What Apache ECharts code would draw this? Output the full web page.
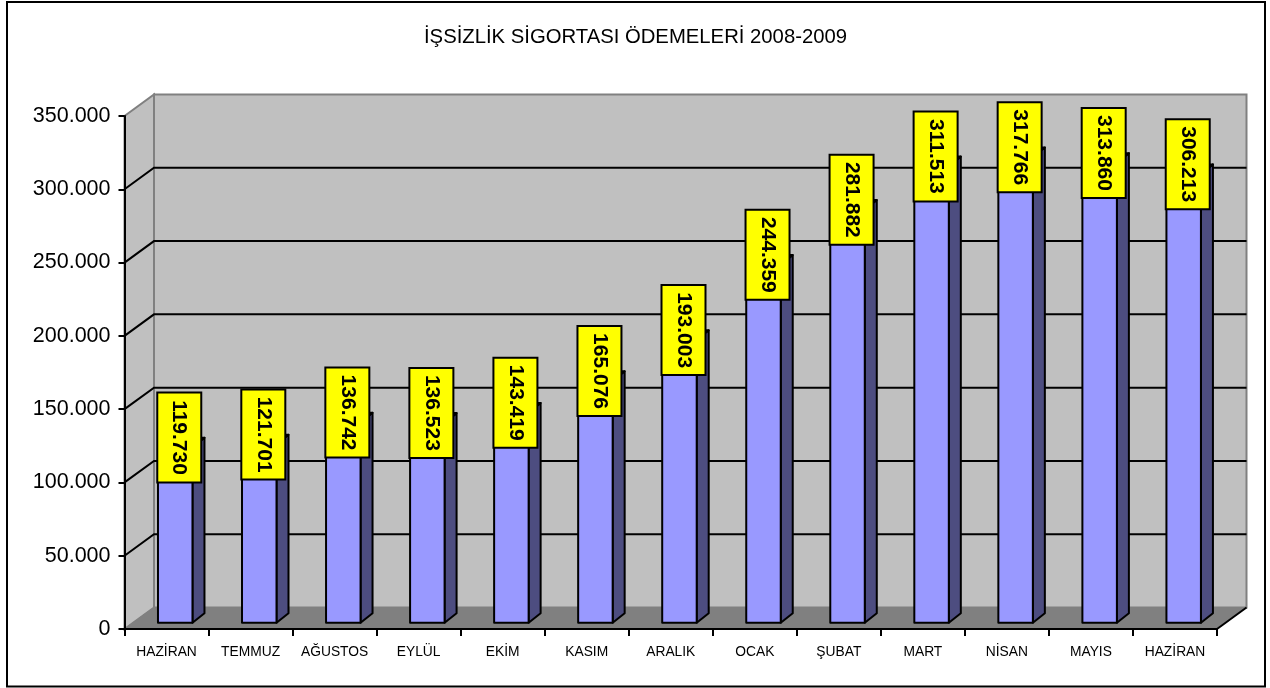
<!DOCTYPE html>
<html>
<head>
<meta charset="utf-8">
<style>
  html, body { margin: 0; padding: 0; background: #fff; }
  #main { width: 1270px; height: 688px; }
</style>
<script src="https://cdn.jsdelivr.net/npm/echarts@6/dist/echarts.min.js"></script>
</head>
<body>
<div id="main"></div>
<script>
const chartTitle = 'İŞSİZLİK SİGORTASI ÖDEMELERİ 2008-2009'
const months = ['HAZİRAN', 'TEMMUZ', 'AĞUSTOS', 'EYLÜL', 'EKİM', 'KASIM', 'ARALIK', 'OCAK', 'ŞUBAT', 'MART', 'NİSAN', 'MAYIS', 'HAZİRAN']
const payments = [119730, 121701, 136742, 136523, 143419, 165076, 193003, 244359, 281882, 311513, 317766, 313860, 306213]
const gridValues = [50000, 100000, 150000, 200000, 250000, 300000]

// fake 3d: how far the back wall / the bar sit behind the axis plane
const depthX = 29.5
const depthY = -21.5
const barShiftX = 8.7
const barShiftY = -6.3
const barW = 34.5
const barDepthX = 12
const barDepthY = -9.5

function formatThousands(v) {
  return String(v).replace(/\B(?=(\d{3})+$)/g, '.')
}

function poly(points, fill, stroke, width) {
  return {
    type: 'polygon',
    shape: { points },
    style: { fill, stroke, lineWidth: width || 0 }
  }
}

function renderWalls(params) {
  const g = params.coordSys
  const l = g.x, r = g.x + g.width, t = g.y, b = g.y + g.height
  return {
    type: 'group',
    children: [
      poly([[l + depthX, t + depthY], [r + depthX, t + depthY], [r + depthX, b + depthY], [l + depthX, b + depthY]], '#c0c0c0', '#808080', 2),
      poly([[l, t], [l + depthX, t + depthY], [l + depthX, b + depthY], [l, b]], '#c0c0c0', '#808080', 2),
      poly([[l, b], [l + depthX, b + depthY], [r + depthX, b + depthY], [r, b]], '#808080', '#808080', 1),
      {
        type: 'line',
        shape: { x1: r, y1: b, x2: r + depthX, y2: b + depthY },
        style: { stroke: '#000', lineWidth: 2 }
      }
    ]
  }
}

function renderGridLine(params, api) {
  const g = params.coordSys
  const y = api.coord([0, api.value(1)])[1]
  return {
    type: 'polyline',
    shape: { points: [[g.x, y], [g.x + depthX, y + depthY], [g.x + g.width + depthX, y + depthY]] },
    style: { stroke: '#000', lineWidth: 2, fill: null }
  }
}

function renderBar(params, api) {
  const top = api.coord([api.value(0), api.value(1)])
  const base = api.coord([api.value(0), 0])
  const x0 = top[0] + barShiftX - barW / 2
  const x1 = x0 + barW
  const yt = top[1] + barShiftY
  const yb = base[1] + barShiftY
  const line = { stroke: '#000', lineWidth: 2, lineJoin: 'round' }
  return {
    type: 'group',
    children: [
      {
        type: 'polygon',
        shape: { points: [[x1, yt], [x1 + barDepthX, yt + barDepthY], [x1 + barDepthX, yb + barDepthY], [x1, yb]] },
        style: Object.assign({ fill: '#4d4d80' }, line)
      },
      {
        type: 'polygon',
        shape: { points: [[x0, yt], [x0 + barDepthX, yt + barDepthY], [x1 + barDepthX, yt + barDepthY], [x1, yt]] },
        style: Object.assign({ fill: '#7a7acc' }, line)
      },
      {
        type: 'rect',
        shape: { x: x0, y: yt, width: barW, height: yb - yt },
        style: Object.assign({ fill: '#9999ff' }, line)
      }
    ]
  }
}

function renderValueBox(params, api) {
  const top = api.coord([api.value(0), api.value(1)])
  const cx = top[0] + barShiftX - barW / 2 + 21.3
  const cy = top[1] + barShiftY - 9.7
  return {
    type: 'group',
    children: [
      {
        type: 'rect',
        shape: { x: cx - 22, y: cy - 45, width: 44, height: 90 },
        style: { fill: '#ffff00', stroke: '#000', lineWidth: 2 }
      },
      {
        type: 'text',
        x: cx,
        y: cy,
        rotation: -Math.PI / 2,
        style: {
          text: formatThousands(api.value(1)),
          align: 'center',
          verticalAlign: 'middle',
          font: 'bold 21px "Liberation Sans", Arial, sans-serif',
          fill: '#000'
        }
      }
    ]
  }
}

const barData = payments.map((v, i) => [i, v])

const myChart = echarts.init(document.getElementById('main'))

const option = {
  animation: false,
  backgroundColor: '#fff',
  textStyle: { fontFamily: '"Liberation Sans", Arial, sans-serif' },
  title: {
    text: chartTitle,
    left: 630.5,
    top: 22,
    textAlign: 'center',
    textStyle: { fontSize: 20.3, fontWeight: 'normal', color: '#000', fontFamily: '"Liberation Sans", Arial, sans-serif' }
  },
  graphic: [{
    type: 'rect',
    shape: { x: 7, y: 2, width: 1258, height: 684.5 },
    style: { fill: null, stroke: '#000', lineWidth: 2 },
    silent: true
  }],
  grid: { left: 124.5, right: 53, top: 116, bottom: 59 },
  xAxis: {
    type: 'category',
    data: months,
    z: 5,
    axisLine: { lineStyle: { color: '#000', width: 2 } },
    axisTick: { show: true, length: 7, lineStyle: { color: '#000', width: 2 } },
    axisLabel: { color: '#000', fontSize: 13.8, margin: 16, interval: 0 }
  },
  yAxis: {
    type: 'value',
    min: 0,
    max: 350000,
    interval: 50000,
    z: 5,
    axisLine: { show: true, lineStyle: { color: '#000', width: 2 } },
    axisTick: { show: true, length: 6, lineStyle: { color: '#000', width: 2 } },
    axisLabel: { color: '#000', fontSize: 21.5, margin: 14, padding: [3, 0, 0, 0], formatter: formatThousands },
    splitLine: { show: false }
  },
  series: [
    { type: 'custom', z: 1, silent: true, clip: false, renderItem: renderWalls, data: [[0, 0]] },
    { type: 'custom', z: 2, silent: true, clip: false, renderItem: renderGridLine, data: gridValues.map(v => [0, v]) },
    { type: 'custom', z: 3, clip: false, renderItem: renderBar, data: barData },
    { type: 'custom', z: 4, clip: false, renderItem: renderValueBox, data: barData }
  ]
}

myChart.setOption(option)
</script>
</body>
</html>
